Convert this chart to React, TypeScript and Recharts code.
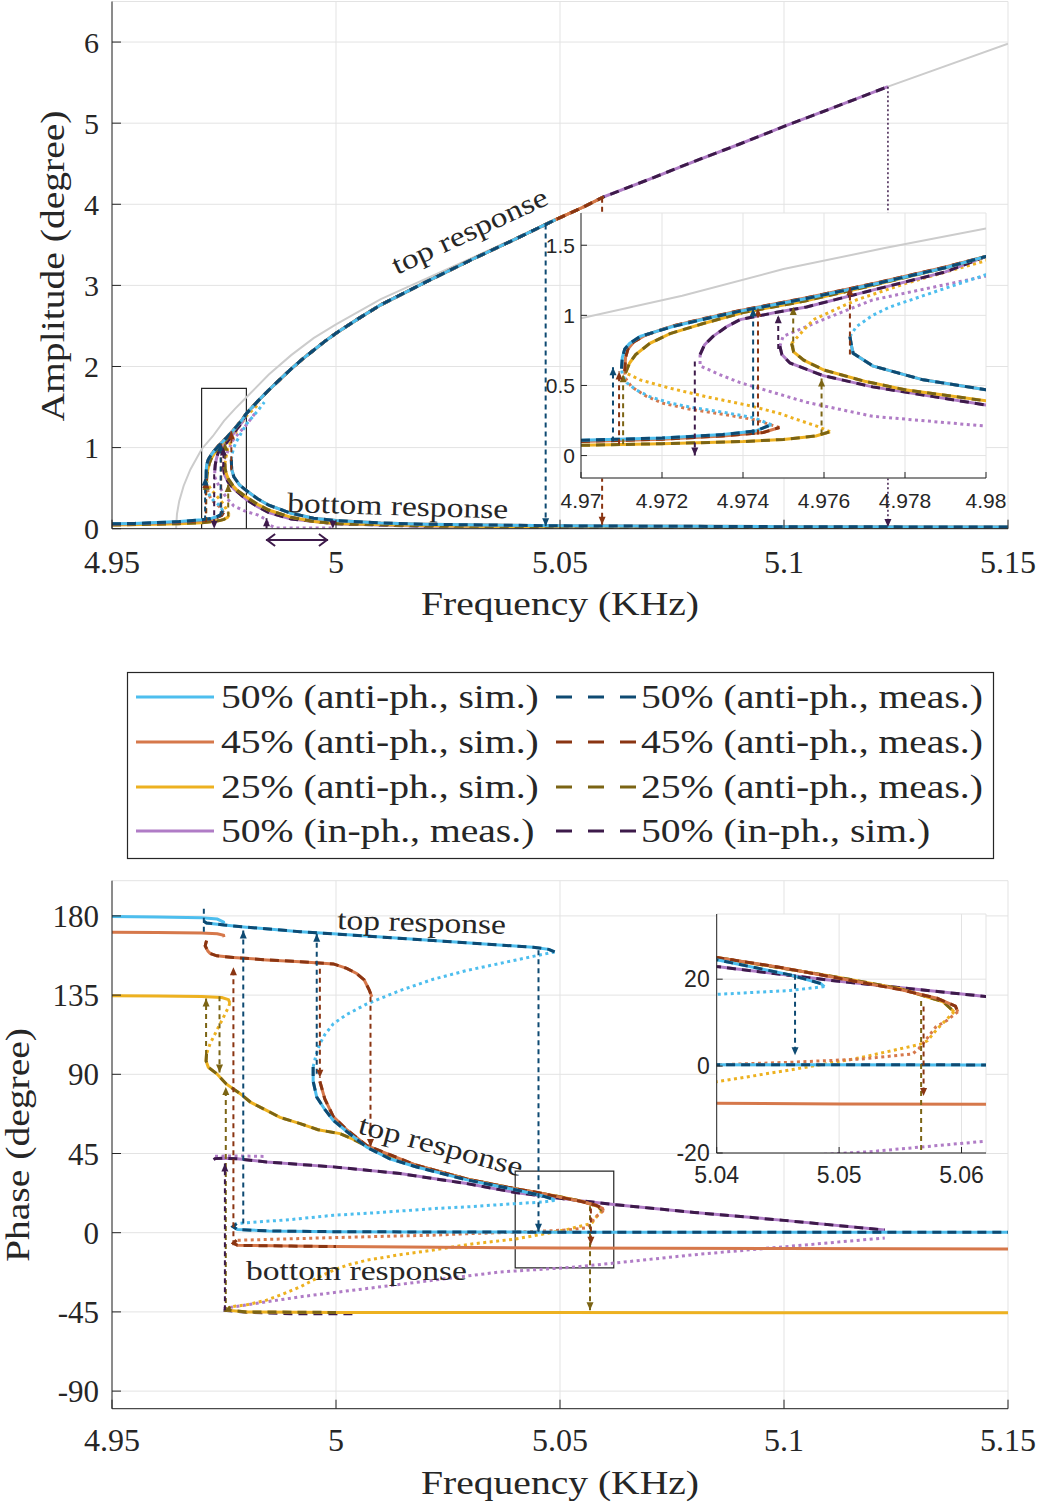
import React from 'react';
import { LineChart, Line, XAxis, YAxis, CartesianGrid, ReferenceArea, ReferenceLine } from 'recharts';

type Pt = [number, number];
type Kind = 'backbone' | 'sim' | 'meas' | 'unstable' | 'jump' | 'jumpThin';
type Series = { pts: Pt[]; color: string; kind: Kind; arrow?: boolean };

const SERIF = '"Liberation Serif", "Times New Roman", serif';
const SANS = '"Liberation Sans", Arial, sans-serif';
const INK = '#262626';
const GRID = '#e3e3e3';

const BLUE = '#4DBEEE';
const BLUE_D = '#0E4A72';
const ORANGE = '#D6784B';
const ORANGE_D = '#8A3512';
const YELLOW = '#EDB120';
const YELLOW_D = '#7B6414';
const PURPLE = '#B07CC6';
const PURPLE_D = '#3D1A4A';
const GRAY = '#CCCCCC';

// ---- ticks ----
const freqTicks = [4.95, 5, 5.05, 5.1, 5.15];
const ampTicks = [0, 1, 2, 3, 4, 5, 6];
const ampZoomFreqTicks = [4.97, 4.972, 4.974, 4.976, 4.978, 4.98];
const ampZoomTicks = [0, 0.5, 1, 1.5];
const phaseTicks = [-90, -45, 0, 45, 90, 135, 180];
const phaseZoomFreqTicks = [5.04, 5.05, 5.06];
const phaseZoomTicks = [-20, 0, 20];

// ---- amplitude (degree) vs frequency (KHz) ----
const ampBackbone: Pt[] = [[4.9643, 0], [4.9645, 0.18], [4.965, 0.34], [4.966, 0.53], [4.9675, 0.73], [4.97, 0.98], [4.9725, 1.14], [4.975, 1.33], [4.9775, 1.48], [4.98, 1.62], [4.985, 1.9], [4.99, 2.14], [4.995, 2.35], [5.0, 2.52], [5.01, 2.83], [5.02, 3.08], [5.03, 3.33], [5.04, 3.58], [5.05, 3.83], [5.06, 4.09], [5.08, 4.52], [5.1, 4.96], [5.1232, 5.45], [5.15, 5.98]];

const ampLowBlue: Pt[] = [[4.95, 0.06], [4.955, 0.065], [4.96, 0.075], [4.965, 0.088], [4.97, 0.11], [4.972, 0.125], [4.9735, 0.15], [4.9743, 0.175], [4.9747, 0.22]];
const ampLowOrange: Pt[] = [[4.95, 0.055], [4.96, 0.07], [4.965, 0.083], [4.97, 0.1], [4.972, 0.117], [4.9735, 0.14], [4.9745, 0.165], [4.9749, 0.2]];
const ampLowYellow: Pt[] = [[4.95, 0.045], [4.96, 0.055], [4.965, 0.062], [4.97, 0.073], [4.972, 0.085], [4.974, 0.1], [4.975, 0.115], [4.9758, 0.14], [4.97615, 0.17]];

const ampFoldBlue: Pt[] = [[4.9747, 0.22], [4.97426, 0.27], [4.9735, 0.31], [4.9727, 0.345], [4.9722, 0.375], [4.9717, 0.42], [4.97135, 0.47], [4.97113, 0.52], [4.97102, 0.58], [4.971, 0.62]];
const ampFoldOrange: Pt[] = [[4.9749, 0.2], [4.9743, 0.255], [4.9735, 0.295], [4.9727, 0.33], [4.972, 0.375], [4.9716, 0.425], [4.97125, 0.49], [4.9711, 0.55], [4.97108, 0.6]];
const ampFoldYellow: Pt[] = [[4.97615, 0.17], [4.97582, 0.21], [4.9753, 0.26], [4.97491, 0.3], [4.9741, 0.36], [4.97309, 0.42], [4.9722, 0.48], [4.97146, 0.54], [4.9711, 0.59]];
const ampFoldPurple: Pt[] = [[4.97294, 0.72], [4.97294, 0.64], [4.9734, 0.58], [4.97393, 0.52], [4.97557, 0.38], [4.9772, 0.28], [4.98, 0.21], [4.9825, 0.17], [4.9842, 0.12], [4.985, 0.05], [4.9865, 0.01], [4.999, 0.01]];

const ampUpperA: Pt[] = [[4.98, 1.42], [4.9825, 1.57], [4.985, 1.71], [4.9875, 1.84], [4.99, 1.97], [4.9925, 2.09], [4.995, 2.2], [4.9975, 2.31], [5.0, 2.41], [5.005, 2.59], [5.01, 2.76], [5.02, 3.04], [5.03, 3.31], [5.04, 3.57], [5.049, 3.81]];
const ampUpperB: Pt[] = [[5.055, 3.96], [5.0597, 4.09]];
const ampUpperC: Pt[] = [[5.07, 4.31], [5.08, 4.53], [5.09, 4.74], [5.1, 4.96], [5.11, 5.17], [5.1232, 5.45]];

const ampTopBlueStart: Pt[] = [[4.971, 0.62], [4.97102, 0.7], [4.97108, 0.76], [4.9712, 0.8], [4.97146, 0.85], [4.9718, 0.88], [4.97227, 0.92], [4.973, 0.97], [4.97393, 1.03], [4.97557, 1.12], [4.9772, 1.22], [4.979, 1.34]];
const ampTopOrangeStart: Pt[] = [[4.97108, 0.6], [4.9711, 0.7], [4.97116, 0.76], [4.9713, 0.81], [4.9716, 0.86], [4.97227, 0.925], [4.973, 0.975], [4.97393, 1.035], [4.97557, 1.125], [4.9772, 1.225], [4.979, 1.345]];
const ampTopYellowStart: Pt[] = [[4.9711, 0.59], [4.9712, 0.66], [4.97135, 0.72], [4.9717, 0.8], [4.9722, 0.87], [4.973, 0.94], [4.974, 1.02], [4.9755, 1.1], [4.977, 1.2], [4.979, 1.34]];
const ampTopPurpleStart: Pt[] = [[4.97294, 0.72], [4.97305, 0.79], [4.97326, 0.85], [4.9736, 0.92], [4.97393, 0.97], [4.9748, 1.02], [4.97557, 1.06], [4.9772, 1.18], [4.979, 1.31]];

const ampTopBlue: Pt[] = [...ampTopBlueStart, ...ampUpperA];
const ampTopOrange: Pt[] = [...ampTopOrangeStart, ...ampUpperA, ...ampUpperB];
const ampTopYellow: Pt[] = [...ampTopYellowStart, ...ampUpperA, ...ampUpperB];
const ampTopPurple: Pt[] = [...ampTopPurpleStart, ...ampUpperA, ...ampUpperB, ...ampUpperC];

const ampUpperFoldBlue: Pt[] = [[4.97664, 0.85], [4.9768, 0.92], [4.9772, 1.0], [4.97763, 1.06], [4.97886, 1.18], [4.98, 1.29], [4.9825, 1.45], [4.984, 1.56]];
const ampUpperFoldYellow: Pt[] = [[4.9752, 0.8], [4.97574, 0.97], [4.9768, 1.11], [4.97804, 1.23], [4.98, 1.39], [4.983, 1.55]];
const ampUpperFoldPurple: Pt[] = [[4.97491, 0.78], [4.97499, 0.85], [4.97598, 0.97], [4.9772, 1.11], [4.98, 1.28], [4.9823, 1.45]];

const ampBotBlue: Pt[] = [[4.97664, 0.85], [4.97668, 0.78], [4.97672, 0.73], [4.9772, 0.64], [4.97845, 0.54], [4.98, 0.47], [4.9825, 0.37], [4.985, 0.29], [4.99, 0.19], [4.995, 0.13], [5.0, 0.1], [5.01, 0.07], [5.02, 0.055], [5.05, 0.035], [5.1, 0.025], [5.15, 0.02]];
const ampBotYellow: Pt[] = [[4.9752, 0.8], [4.97525, 0.74], [4.9755, 0.68], [4.976, 0.61], [4.977, 0.53], [4.978, 0.47], [4.98, 0.39], [4.9825, 0.3], [4.985, 0.23], [4.99, 0.14], [4.995, 0.09], [5.0, 0.065], [5.02, 0.035], [5.05, 0.02], [5.15, 0.01]];
const ampBotPurple: Pt[] = [[4.97491, 0.78], [4.97496, 0.72], [4.97516, 0.66], [4.97598, 0.57], [4.9772, 0.49], [4.98, 0.36], [4.9825, 0.27], [4.985, 0.2], [4.99, 0.12], [5.0, 0.06], [5.02, 0.03], [5.05, 0.02], [5.15, 0.01]];

// measured jumps (start, end)
const ampJumpsBlue: Pt[][] = [[[4.97079, 0.1], [4.97079, 0.63]], [[4.97425, 0.15], [4.97425, 1.05]], [[5.0468, 3.75], [5.0468, 0.03]]];
const ampJumpsOrange: Pt[][] = [[[4.97094, 0.08], [4.97094, 0.6]], [[4.97437, 0.15], [4.97437, 1.05]], [[4.97664, 0.72], [4.97664, 1.2]], [[5.0594, 4.08], [5.0594, 0.05]]];
const ampJumpsYellow: Pt[][] = [[[4.97104, 0.08], [4.97104, 0.58]], [[4.97524, 0.75], [4.97524, 1.06]], [[4.97594, 0.15], [4.97594, 0.55]]];
const ampJumpsPurple: Pt[][] = [[[4.97281, 0.67], [4.97281, 0.0]], [[4.97487, 0.76], [4.97487, 1.0]], [[4.9845, 0.0], [4.9845, 0.13]], [[4.9993, 0.1], [4.9993, 0.0]]];
const ampJumpPurpleEnd: Pt[] = [[5.1232, 5.45], [5.1232, 0.02]];

// ---- phase (degree) vs frequency (KHz) ----
const phLowBlue: Pt[] = [[4.95, 179.6], [4.96, 179.4], [4.97, 179], [4.9735, 178.2], [4.9749, 176.5], [4.975, 175.5]];
const phLowOrange: Pt[] = [[4.95, 170.7], [4.96, 170.6], [4.97, 170.3], [4.9735, 169.8], [4.9749, 169], [4.975, 168]];
const phLowYellow: Pt[] = [[4.95, 134.6], [4.96, 134.5], [4.97, 134.2], [4.9745, 133.6], [4.976, 132.4], [4.9763, 130.5]];

const phTopBlue: Pt[] = [[4.9705, 177], [4.9711, 176], [4.975, 174.8], [4.98, 173.6], [4.992, 171], [4.9994, 169.8], [5.0217, 166], [5.044, 162.2], [5.0475, 161], [5.0488, 159.5]];
const phTopOrange: Pt[] = [[4.9711, 166], [4.9708, 163], [4.9714, 160], [4.9719, 158.7], [4.9734, 157.3], [4.9771, 156.4], [4.9845, 155], [4.992, 154], [4.9994, 152.7], [5.0024, 150.2], [5.0046, 147.3], [5.0063, 143.6], [5.0074, 138], [5.008, 134]];
const phFoldBlue: Pt[] = [[5.0488, 159.5], [5.044, 157], [5.0366, 153], [5.0292, 149], [5.0217, 144], [5.0143, 137.6], [5.0069, 130], [5.0024, 124], [4.9994, 118.7], [4.9975, 112.5], [4.9964, 107.4], [4.9955, 100.5], [4.9949, 94.2]];
const phMidBlue: Pt[] = [[4.9949, 94.2], [4.9949, 86], [4.9957, 77], [4.9975, 70], [4.9994, 63.8], [5.0024, 57.5], [5.0069, 48.5], [5.012, 42], [5.018, 37.3], [5.0292, 30], [5.0403, 24.3], [5.046, 21], [5.0485, 19], [5.0488, 18.3]];
const phMidOrange: Pt[] = [[4.9964, 86], [4.9975, 76], [4.9994, 66], [5.0024, 58.5], [5.0069, 49.5], [5.018, 38.3], [5.0292, 30.5], [5.04, 25], [5.045, 22.8], [5.05, 20.2], [5.055, 17.6], [5.058, 15.6], [5.0595, 13.8], [5.0597, 12.5]];
const phFoldBlue2: Pt[] = [[5.0488, 18.3], [5.046, 17.4], [5.04, 16.5], [5.03, 14.8], [5.0217, 13.7], [5.01, 11.5], [4.9994, 9.9], [4.99, 7.5], [4.9778, 5.2]];
const phFoldOrange: Pt[] = [[5.0597, 12.5], [5.0588, 10.5], [5.0579, 9], [5.0571, 6.1], [5.0565, 4], [5.056, 2.8], [5.0517, 1.6], [5.0462, 0.9], [5.04, 0.3], [5.03, -0.5], [5.0217, -1.4], [5.01, -2.1], [4.9994, -2.8], [4.988, -3.6], [4.9778, -4.3]];
const phBotBlue: Pt[] = [[4.9778, 5.2], [4.977, 3.5], [4.978, 1.8], [4.985, 1], [4.9994, 0.6], [5.02, 0.4], [5.05, 0.3], [5.1, 0.2], [5.15, 0.2]];
const phBotOrange: Pt[] = [[4.9778, -4.3], [4.9771, -6], [4.978, -7.2], [4.99, -7.6], [5.0, -7.9], [5.05, -8.7], [5.1, -9], [5.15, -9.2]];

const phFoldYellow: Pt[] = [[4.9763, 130.5], [4.976, 128.2], [4.9749, 122.5], [4.9734, 115], [4.9719, 107.4], [4.9711, 101.7]];
const phMidYellow: Pt[] = [[4.9711, 101.7], [4.971, 97.5], [4.9715, 94], [4.9734, 90.3], [4.9755, 84.5], [4.9786, 79], [4.981, 74], [4.9845, 69.5], [4.9875, 65.5], [4.992, 62], [4.996, 58.5], [5.0009, 56.3], [5.0039, 53], [5.0069, 49], [5.012, 43], [5.018, 38.2], [5.0292, 30.5], [5.04, 25], [5.05, 20.4], [5.055, 17.8], [5.0585, 14.8], [5.0594, 12.5]];
const phFoldYellow2: Pt[] = [[5.0594, 12.5], [5.058, 8.5], [5.0572, 5.8], [5.0566, 5], [5.0517, 1.9], [5.0462, -0.8], [5.04, -3.6], [5.03, -6.5], [5.0217, -9.9], [5.0143, -12.5], [5.0069, -15.6], [5.0024, -18.5], [4.9994, -21.3], [4.996, -25.5], [4.992, -30.8], [4.988, -35], [4.9845, -38.3], [4.98, -41], [4.9764, -42.1]];
const phBotYellow: Pt[] = [[4.9764, -42.1], [4.9757, -44], [4.98, -45], [5.0, -45.3], [5.05, -45.4], [5.15, -45.5]];

const phTopPurple: Pt[] = [[4.9727, 41.5], [4.973, 42.1], [4.9749, 42.3], [4.978, 42], [4.9845, 40.2], [4.9994, 37.4], [5.0143, 33.6], [5.0292, 27.9], [5.04, 22.9], [5.05, 19.5], [5.062, 16], [5.08, 11.5], [5.1, 7], [5.1225, 1.5]];
const phFoldPurpleTop: Pt[] = [[4.973, 43.4], [4.976, 43.6], [4.981, 43.5], [4.9845, 43.3]];
const phFoldPurpleBot: Pt[] = [[4.9749, -43], [4.98, -41], [4.992, -36.4], [5.0069, -31.7], [5.0217, -27], [5.0366, -22.3], [5.0525, -19.7], [5.0623, -17.2], [5.08, -12.5], [5.1, -8], [5.1225, -3]];
const phLowPurple: Pt[] = [[4.9749, -44], [4.98, -45.2], [4.99, -46], [5.0039, -46]];

const phJumpsBlue: Pt[][] = [[[4.9793, 5.2], [4.9793, 171.7]], [[4.9957, 90.3], [4.9957, 169.8]]];
const phJumpBlueMain: Pt[] = [[5.0452, 160.5], [5.0452, 0.5]];
const phJumpBlueZoom: Pt[] = [[5.0464, 21], [5.0464, 2.5]];
const phJumpBlueShort: Pt[] = [[4.9705, 184], [4.9705, 170]];
const phJumpsOrange: Pt[][] = [[[4.9771, -7.1], [4.9771, 150.8]], [[4.9964, 150], [4.9964, 88]], [[5.0077, 134], [5.0077, 48.7]], [[5.0569, 13.7], [5.0569, -6.9]]];
const phJumpsYellow: Pt[][] = [[[4.971, 101], [4.971, 133]], [[4.974, 134.4], [4.974, 91]], [[4.9754, -45], [4.9754, 82.8]], [[5.0567, 15], [5.0567, -44]]];
const phJumpsPurple: Pt[][] = [[[4.9752, -44], [4.9752, 39.3]]];

// ---- legend ----
const legendSim = [
  { label: '50% (anti-ph., sim.)', color: BLUE },
  { label: '45% (anti-ph., sim.)', color: ORANGE },
  { label: '25% (anti-ph., sim.)', color: YELLOW },
  { label: '50% (in-ph., meas.)', color: PURPLE },
];
const legendMeas = [
  { label: '50% (anti-ph., meas.)', color: BLUE_D },
  { label: '45% (anti-ph., meas.)', color: ORANGE_D },
  { label: '25% (anti-ph., meas.)', color: YELLOW_D },
  { label: '50% (in-ph., sim.)', color: PURPLE_D },
];

const annotations = [
  { text: 'top response', x: 397, y: 275, rot: -25 },
  { text: 'bottom response', x: 287, y: 512, rot: 1.7 },
  { text: 'top response', x: 337, y: 929, rot: 1.7 },
  { text: 'top response', x: 357, y: 1133, rot: 15 },
  { text: 'bottom response', x: 246, y: 1280, rot: 0 },
];

// ---- series lists ----
const jumps = (list: Pt[][], color: string): Series[] => list.map((pts) => ({ pts, color, kind: 'jump' as Kind }));

const ampSeries: Series[] = [
  { pts: ampBackbone, color: GRAY, kind: 'backbone' },
  { pts: ampFoldPurple, color: PURPLE, kind: 'unstable' },
  { pts: ampUpperFoldPurple, color: PURPLE, kind: 'unstable' },
  { pts: ampFoldYellow, color: YELLOW, kind: 'unstable' },
  { pts: ampUpperFoldYellow, color: YELLOW, kind: 'unstable' },
  { pts: ampFoldOrange, color: ORANGE, kind: 'unstable' },
  { pts: ampFoldBlue, color: BLUE, kind: 'unstable' },
  { pts: ampUpperFoldBlue, color: BLUE, kind: 'unstable' },
  { pts: ampTopPurple, color: PURPLE, kind: 'sim' },
  { pts: ampBotPurple, color: PURPLE, kind: 'sim' },
  { pts: ampTopPurple, color: PURPLE_D, kind: 'meas' },
  { pts: ampBotPurple, color: PURPLE_D, kind: 'meas' },
  { pts: ampLowYellow, color: YELLOW, kind: 'sim' },
  { pts: ampTopYellow, color: YELLOW, kind: 'sim' },
  { pts: ampBotYellow, color: YELLOW, kind: 'sim' },
  { pts: ampLowYellow, color: YELLOW_D, kind: 'meas' },
  { pts: ampTopYellow, color: YELLOW_D, kind: 'meas' },
  { pts: ampBotYellow, color: YELLOW_D, kind: 'meas' },
  { pts: ampLowOrange, color: ORANGE, kind: 'sim' },
  { pts: ampTopOrange, color: ORANGE, kind: 'sim' },
  { pts: ampBotBlue, color: ORANGE, kind: 'sim' },
  { pts: ampLowOrange, color: ORANGE_D, kind: 'meas' },
  { pts: ampTopOrange, color: ORANGE_D, kind: 'meas' },
  { pts: ampLowBlue, color: BLUE, kind: 'sim' },
  { pts: ampTopBlue, color: BLUE, kind: 'sim' },
  { pts: ampBotBlue, color: BLUE, kind: 'sim' },
  { pts: ampLowBlue, color: BLUE_D, kind: 'meas' },
  { pts: ampTopBlue, color: BLUE_D, kind: 'meas' },
  { pts: ampBotBlue, color: BLUE_D, kind: 'meas' },
  ...jumps(ampJumpsYellow, YELLOW_D),
  ...jumps(ampJumpsOrange, ORANGE_D),
  ...jumps(ampJumpsBlue, BLUE_D),
  ...jumps(ampJumpsPurple, PURPLE_D),
  { pts: ampJumpPurpleEnd, color: PURPLE_D, kind: 'jumpThin' },
];

const phaseCurves: Series[] = [
  { pts: phFoldPurpleTop, color: PURPLE, kind: 'unstable' },
  { pts: phFoldPurpleBot, color: PURPLE, kind: 'unstable' },
  { pts: phFoldYellow, color: YELLOW, kind: 'unstable' },
  { pts: phFoldYellow2, color: YELLOW, kind: 'unstable' },
  { pts: phFoldOrange, color: ORANGE, kind: 'unstable' },
  { pts: phFoldBlue, color: BLUE, kind: 'unstable' },
  { pts: phFoldBlue2, color: BLUE, kind: 'unstable' },
  { pts: phTopPurple, color: PURPLE, kind: 'sim' },
  { pts: phTopPurple, color: PURPLE_D, kind: 'meas' },
  { pts: phLowPurple, color: PURPLE_D, kind: 'meas' },
  { pts: phLowYellow, color: YELLOW, kind: 'sim' },
  { pts: phMidYellow, color: YELLOW, kind: 'sim' },
  { pts: phBotYellow, color: YELLOW, kind: 'sim' },
  { pts: phMidYellow, color: YELLOW_D, kind: 'meas' },
  { pts: phBotYellow.slice(0, 4), color: YELLOW_D, kind: 'meas' },
  { pts: phLowOrange, color: ORANGE, kind: 'sim' },
  { pts: phTopOrange, color: ORANGE, kind: 'sim' },
  { pts: phMidOrange, color: ORANGE, kind: 'sim' },
  { pts: phBotOrange, color: ORANGE, kind: 'sim' },
  { pts: phTopOrange, color: ORANGE_D, kind: 'meas' },
  { pts: phMidOrange, color: ORANGE_D, kind: 'meas' },
  { pts: phBotOrange.slice(0, 5), color: ORANGE_D, kind: 'meas' },
  { pts: phLowBlue, color: BLUE, kind: 'sim' },
  { pts: phTopBlue, color: BLUE, kind: 'sim' },
  { pts: phMidBlue, color: BLUE, kind: 'sim' },
  { pts: phBotBlue, color: BLUE, kind: 'sim' },
  { pts: phTopBlue, color: BLUE_D, kind: 'meas' },
  { pts: phMidBlue, color: BLUE_D, kind: 'meas' },
  { pts: phBotBlue, color: BLUE_D, kind: 'meas' },
  ...jumps(phJumpsYellow, YELLOW_D),
  ...jumps(phJumpsOrange, ORANGE_D),
  ...jumps(phJumpsBlue, BLUE_D),
  ...jumps(phJumpsPurple, PURPLE_D),
  { pts: phJumpBlueShort, color: BLUE_D, kind: 'jump', arrow: false },
];
const phaseSeries: Series[] = [...phaseCurves, { pts: phJumpBlueMain, color: BLUE_D, kind: 'jump' }];
const phaseZoomSeries: Series[] = [...phaseCurves, { pts: phJumpBlueZoom, color: BLUE_D, kind: 'jump' }];

const STYLE: Record<Kind, { w: number; dash?: string }> = {
  backbone: { w: 2 },
  sim: { w: 3 },
  meas: { w: 3, dash: '9 6' },
  unstable: { w: 3, dash: '3 3.5' },
  jump: { w: 2, dash: '5 4' },
  jumpThin: { w: 1.5, dash: '2 2.5' },
};

const arrowDot = (color: string, last: number, up: boolean) => (props: any) => {
  const { cx, cy, index } = props;
  if (index !== last || cx == null || cy == null) return <g key={`d${index}`} />;
  const s = up ? 1 : -1;
  return <path key={`d${index}`} d={`M${cx},${cy} L${cx - 3.5},${cy + s * 8} L${cx + 3.5},${cy + s * 8} Z`} fill={color} />;
};

function renderSeries(s: Series, i: number) {
  const st = STYLE[s.kind];
  const rows = s.pts.map(([f, v]) => ({ f, v }));
  const isJump = s.kind === 'jump' || s.kind === 'jumpThin';
  const dot = isJump && s.arrow !== false
    ? arrowDot(s.color, s.pts.length - 1, s.pts[s.pts.length - 1][1] > s.pts[0][1])
    : false;
  return (
    <Line
      key={`s${i}`}
      data={rows}
      dataKey="v"
      type="linear"
      stroke={s.color}
      strokeWidth={st.w}
      strokeDasharray={st.dash}
      dot={dot}
      activeDot={false}
      legendType="none"
      isAnimationActive={false}
    />
  );
}

type Rect = { l: number; t: number; r: number; b: number };

function Panel(props: {
  box: Rect; plot: Rect; xDomain: [number, number]; yDomain: [number, number];
  xTicks: number[]; yTicks: number[]; series: Series[]; frame: boolean; white?: boolean;
  font: string; fontSize: number; yFontSize?: number; tickLen: number; xGap: number; yGap: number; extras?: React.ReactNode;
}) {
  const { box, plot, xDomain, yDomain, xTicks, yTicks, series, frame, white, font, fontSize, yFontSize, tickLen, xGap, yGap, extras } = props;
  const width = box.r - box.l;
  const height = box.b - box.t;
  const xH = 40;
  const xTickStyle = { fill: INK, fontFamily: font, fontSize };
  const yTickStyle = { fill: INK, fontFamily: font, fontSize: yFontSize ?? fontSize };
  return (
    <div style={{ position: 'absolute', left: box.l, top: box.t, width, height }}>
      {white && (
        <div style={{ position: 'absolute', left: plot.l - box.l, top: plot.t - box.t, width: plot.r - plot.l, height: plot.b - plot.t, background: '#fff' }} />
      )}
      <div style={{ position: 'absolute', left: 0, top: 0 }}>
        <LineChart
          width={width}
          height={height}
          margin={{ top: plot.t - box.t, right: box.r - plot.r, bottom: box.b - plot.b - xH, left: 0 }}
        >
          <CartesianGrid stroke={GRID} strokeWidth={1} />
          <XAxis
            dataKey="f" type="number" domain={xDomain} ticks={xTicks} interval={0} allowDataOverflow
            height={xH} tickSize={-tickLen} tickMargin={xGap + tickLen}
            tickLine={{ stroke: INK }} axisLine={{ stroke: INK }} tick={xTickStyle}
          />
          <YAxis
            type="number" domain={yDomain} ticks={yTicks} interval={0} allowDataOverflow
            width={plot.l - box.l} tickSize={-tickLen} tickMargin={yGap + tickLen}
            tickLine={{ stroke: INK }} axisLine={{ stroke: INK }} tick={yTickStyle}
          />
          {frame && (
            <XAxis
              xAxisId="top" orientation="top" dataKey="f" type="number" domain={xDomain} ticks={xTicks} interval={0}
              allowDataOverflow height={0} tick={false} tickSize={-tickLen}
              tickLine={{ stroke: INK }} axisLine={{ stroke: INK }}
            />
          )}
          {frame && (
            <YAxis
              yAxisId="right" orientation="right" type="number" domain={yDomain} ticks={yTicks} interval={0}
              allowDataOverflow width={0} tick={false} tickSize={-tickLen}
              tickLine={{ stroke: INK }} axisLine={{ stroke: INK }}
            />
          )}
          {series.map(renderSeries)}
          {extras}
        </LineChart>
      </div>
    </div>
  );
}

const doubleArrow = (p: any) => {
  const { x1, y1, x2, y2 } = p;
  return (
    <g>
      <line x1={x1} y1={y1} x2={x2} y2={y2} stroke={PURPLE_D} strokeWidth={2} />
      <path
        d={`M${x1 + 9},${y1 - 6} L${x1 + 1},${y1} L${x1 + 9},${y1 + 6} M${x2 - 9},${y2 - 6} L${x2 - 1},${y2} L${x2 - 9},${y2 + 6}`}
        fill="none" stroke={PURPLE_D} strokeWidth={2}
      />
    </g>
  );
};

function SerifText({ x, y, rot = 0, size = 33, anchor = 'start', children }: any) {
  return (
    <text
      transform={`translate(${x},${y}) rotate(${rot}) scale(1.2,1)`}
      fontFamily={SERIF} fontSize={size} fill={INK} textAnchor={anchor}
    >
      {children}
    </text>
  );
}

export default function App() {
  const rows = [697, 742, 787, 831];
  return (
    <div style={{ position: 'absolute', left: 0, top: 0, width: 1038, height: 1505, background: '#fff' }}>
      {/* amplitude */}
      <Panel
        box={{ l: 0, t: 0, r: 1038, b: 640 }}
        plot={{ l: 112, t: 1.5, r: 1008, b: 528.7 }}
        xDomain={[4.95, 5.15]} yDomain={[0, 6.5]} xTicks={freqTicks} yTicks={ampTicks}
        series={ampSeries} frame font={SERIF} fontSize={32} yFontSize={30} tickLen={9} xGap={22} yGap={13}
        extras={[
          <ReferenceArea key="zr" x1={4.97} x2={4.98} y1={-0.16} y2={1.73} fill="none" fillOpacity={0} stroke={INK} strokeWidth={1.2} ifOverflow="hidden" />,
          <ReferenceLine key="da" segment={[{ x: 4.9844, y: -0.14 }, { x: 4.9982, y: -0.14 }]} ifOverflow="visible" shape={doubleArrow} />,
        ]}
      />
      <Panel
        box={{ l: 500, t: 200, r: 1020, b: 520 }}
        plot={{ l: 581, t: 213, r: 986, b: 478 }}
        xDomain={[4.97, 4.98]} yDomain={[-0.16, 1.73]} xTicks={ampZoomFreqTicks} yTicks={ampZoomTicks}
        series={ampSeries} frame white font={SANS} fontSize={21} tickLen={6} xGap={15} yGap={6}
      />
      {/* phase */}
      <Panel
        box={{ l: 0, t: 860, r: 1038, b: 1460 }}
        plot={{ l: 112, t: 880.7, r: 1008, b: 1408.7 }}
        xDomain={[4.95, 5.15]} yDomain={[-100, 200]} xTicks={freqTicks} yTicks={phaseTicks}
        series={phaseSeries} frame={false} font={SERIF} fontSize={32} yFontSize={31} tickLen={9} xGap={20} yGap={13}
        extras={[
          <ReferenceArea key="zr2" x1={5.04} x2={5.062} y1={-20} y2={35} fill="none" fillOpacity={0} stroke={INK} strokeWidth={1.2} ifOverflow="hidden" />,
        ]}
      />
      <Panel
        box={{ l: 640, t: 900, r: 1020, b: 1200 }}
        plot={{ l: 716.7, t: 914, r: 986, b: 1153 }}
        xDomain={[5.04, 5.062]} yDomain={[-20, 35]} xTicks={phaseZoomFreqTicks} yTicks={phaseZoomTicks}
        series={phaseZoomSeries} frame white font={SANS} fontSize={23} tickLen={6} xGap={14} yGap={7}
      />
      {/* titles, annotations, legend */}
      <svg width={1038} height={1505} style={{ position: 'absolute', left: 0, top: 0, pointerEvents: 'none' }}>
        <SerifText x={560} y={615} anchor="middle">Frequency (KHz)</SerifText>
        <SerifText x={560} y={1494} anchor="middle">Frequency (KHz)</SerifText>
        <SerifText x={64} y={266} rot={-90} anchor="middle">Amplitude (degree)</SerifText>
        <SerifText x={29} y={1145} rot={-90} anchor="middle">Phase (degree)</SerifText>
        {annotations.map((a, i) => (
          <SerifText key={`an${i}`} x={a.x} y={a.y} rot={a.rot} size={28}>{a.text}</SerifText>
        ))}
        <rect x={127.5} y={672.5} width={866} height={186} fill="#fff" stroke={INK} strokeWidth={1.2} />
        {legendSim.map((e, i) => (
          <g key={`ls${i}`}>
            <line x1={136} x2={214} y1={rows[i]} y2={rows[i]} stroke={e.color} strokeWidth={3} />
            <SerifText x={221} y={rows[i] + 11}>{e.label}</SerifText>
          </g>
        ))}
        {legendMeas.map((e, i) => (
          <g key={`lm${i}`}>
            <line x1={556} x2={636} y1={rows[i]} y2={rows[i]} stroke={e.color} strokeWidth={3} strokeDasharray="16 16" />
            <SerifText x={641} y={rows[i] + 11}>{e.label}</SerifText>
          </g>
        ))}
      </svg>
    </div>
  );
}
